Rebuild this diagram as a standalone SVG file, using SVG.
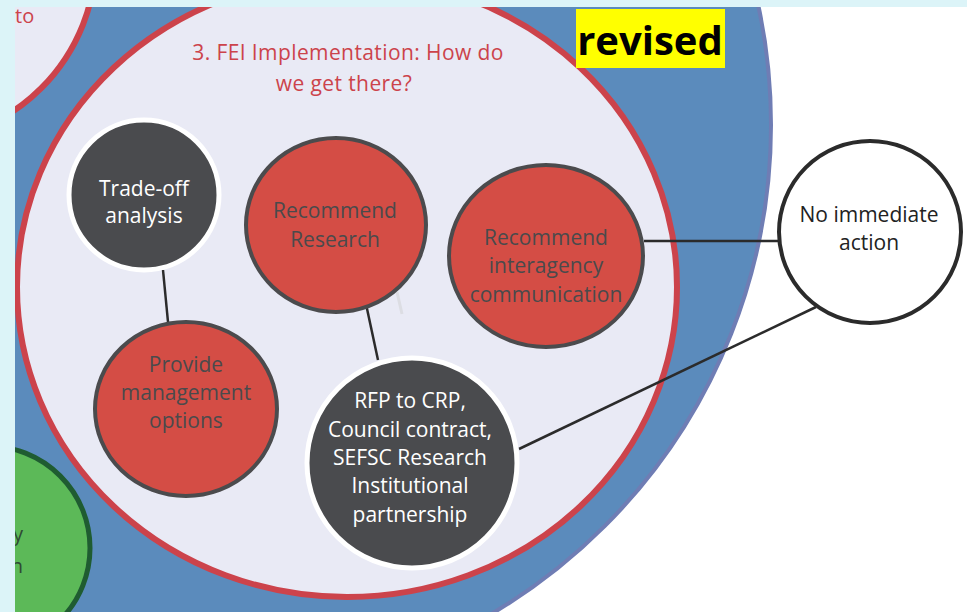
<svg xmlns="http://www.w3.org/2000/svg" width="967" height="612" viewBox="0 0 967 612">
<style>
.t{font-family:"Open Sans","Liberation Sans",sans-serif;font-size:21px;text-anchor:middle}
.red{fill:#d44d45;stroke:#4b4b4d;stroke-width:4}
.dark{fill:#4a4b4e;stroke:#ffffff;stroke-width:5}
.wt{fill:#ffffff}
.gt{fill:#4a4a4c}
.conn{stroke:#2b2b2b;stroke-width:2.5;fill:none}
</style>
<rect x="0" y="0" width="967" height="612" fill="#ffffff"/>
<g id="background">
<circle cx="204" cy="125" r="567" fill="#5b8bbc" stroke="#6f7db4" stroke-width="4"/>
<circle cx="-91" cy="-44" r="187" fill="#e9eaf5" stroke="#cc434b" stroke-width="6"/>
<text x="15" y="23" font-family="Open Sans, Liberation Sans, sans-serif" font-size="20" fill="#cc434b">to</text>
<circle cx="-12" cy="548" r="102" fill="#5cb958" stroke="#1f5c31" stroke-width="5"/>
<text x="23" y="541" font-family="Open Sans, Liberation Sans, sans-serif" font-size="20" fill="#2f4a35" text-anchor="end">y</text>
<text x="23" y="573" font-family="Open Sans, Liberation Sans, sans-serif" font-size="20" fill="#2f4a35" text-anchor="end">n</text>
<ellipse cx="347" cy="287" rx="330" ry="310" fill="#e9eaf5" stroke="#cc434b" stroke-width="6"/>
<line x1="397" y1="292" x2="402" y2="314" stroke="#dcdde3" stroke-width="3"/>
</g>
<g id="title">
<text class="t" x="348" y="60" fill="#cc434b" font-size="24" letter-spacing="0.4">3. FEI Implementation: How do</text>
<text class="t" x="344" y="91" fill="#cc434b" font-size="24" letter-spacing="0.4">we get there?</text>
</g>
<g id="connectors">
<line class="conn" x1="163" y1="270" x2="168" y2="322"/>
<line class="conn" x1="366" y1="304" x2="378" y2="360"/>
<line class="conn" x1="644" y1="241" x2="780" y2="241"/>
<line class="conn" x1="816" y1="307" x2="519" y2="449"/>
</g>
<g id="trade-off">
<circle class="dark" cx="144" cy="195" r="75"/>
<text class="t wt" x="144" y="196" font-size="20">Trade-off</text>
<text class="t wt" x="144" y="223" font-size="20">analysis</text>
</g>
<g id="recommend-research">
<ellipse class="red" cx="336" cy="225" rx="90" ry="87"/>
<text class="t gt" x="335" y="218">Recommend</text>
<text class="t gt" x="335" y="247">Research</text>
</g>
<g id="recommend-interagency">
<ellipse class="red" cx="546" cy="256" rx="97" ry="91"/>
<text class="t gt" x="546" y="245">Recommend</text>
<text class="t gt" x="546" y="273">interagency</text>
<text class="t gt" x="546" y="302">communication</text>
</g>
<g id="no-immediate-action">
<circle cx="870" cy="232" r="91" fill="#ffffff" stroke="#2b2b2b" stroke-width="4"/>
<text class="t" x="869" y="222" fill="#222222">No immediate</text>
<text class="t" x="869" y="250" fill="#222222">action</text>
</g>
<g id="provide-management">
<ellipse class="red" cx="186" cy="409" rx="91" ry="87"/>
<text class="t gt" x="186" y="372">Provide</text>
<text class="t gt" x="186" y="400">management</text>
<text class="t gt" x="186" y="428">options</text>
</g>
<g id="rfp">
<circle class="dark" cx="412" cy="463" r="105"/>
<text class="t wt" x="410" y="408">RFP to CRP,</text>
<text class="t wt" x="410" y="437">Council contract,</text>
<text class="t wt" x="410" y="465">SEFSC Research</text>
<text class="t wt" x="410" y="493">Institutional</text>
<text class="t wt" x="410" y="522">partnership</text>
</g>
<g id="revised">
<rect x="576" y="9" width="149" height="59" fill="#ffff00"/>
<text x="650" y="55" font-family="Open Sans, Liberation Sans, sans-serif" font-weight="bold" font-size="40" text-anchor="middle" fill="#000000">revised</text>
</g>
<g id="frame">
<rect x="0" y="0" width="967" height="7" fill="#dcf4f8"/>
<rect x="0" y="0" width="15" height="612" fill="#dcf4f8"/>
</g>
</svg>
